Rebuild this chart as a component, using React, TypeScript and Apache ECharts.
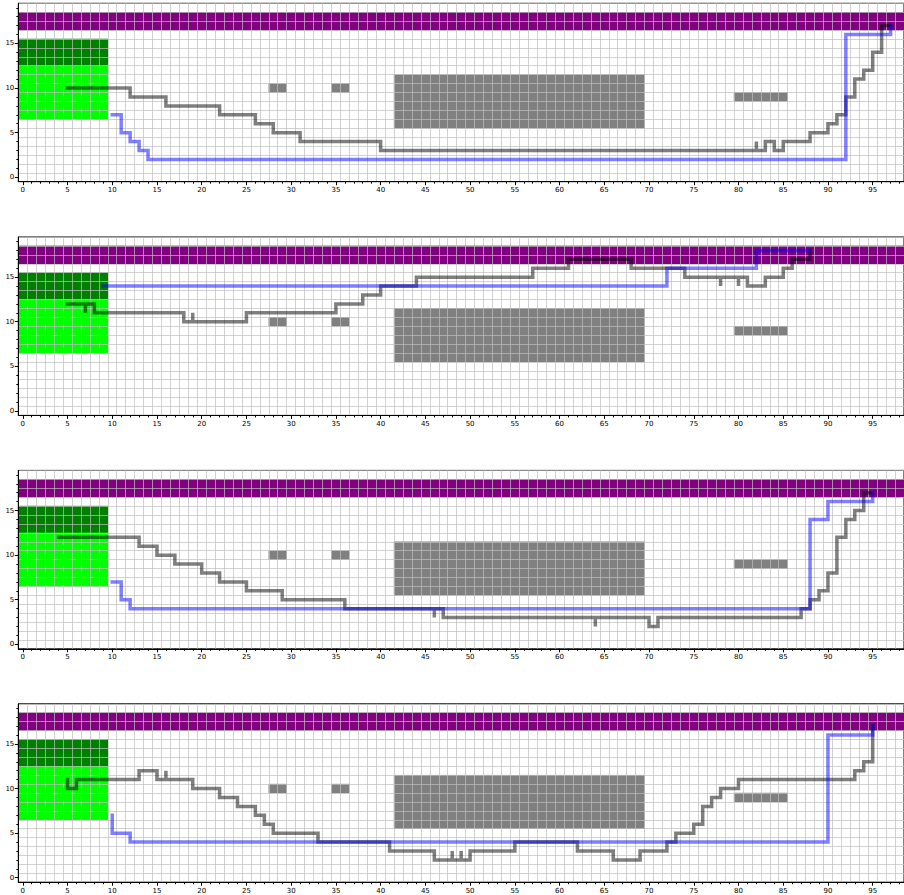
import React, { useEffect, useRef } from "react";
import * as echarts from "echarts";

// ---------- axes ----------
const X_COUNT = 99; // columns 0..98
const Y_COUNT = 20; // rows 0..19
const xCategories = Array.from({ length: X_COUNT }, (_, i) => String(i));
const yCategories = Array.from({ length: Y_COUNT }, (_, i) => String(i));

// ---------- zones: [x0, x1, y0, y1] (inclusive cell ranges) ----------
const goalZone = [0, 98, 17, 18];
const startZoneDark = [0, 9, 13, 15];
const startZoneLight = [0, 9, 7, 12];
const obstacles = [
  [28, 29, 10, 10],
  [35, 36, 10, 10],
  [42, 69, 6, 11],
  [80, 85, 9, 9],
];

// ---------- paths ----------
const grayPath1 = [
  [5, 10], [12, 10], [12, 9], [16, 9], [16, 8], [22, 8], [22, 7], [26, 7], [26, 6],
  [28, 6], [28, 5], [31, 5], [31, 4], [40, 4], [40, 3], [82, 3], [82, 4], [82, 3],
  [83, 3], [83, 4], [84, 4], [84, 3], [85, 3], [85, 4], [88, 4], [88, 5], [90, 5],
  [90, 6], [91, 6], [91, 7], [92, 7], [92, 9], [93, 9], [93, 11], [94, 11], [94, 12],
  [95, 12], [95, 14], [96, 14], [96, 17], [97, 17],
];
const bluePath1 = [
  [10, 7], [11, 7], [11, 5], [12, 5], [12, 4], [13, 4], [13, 3], [14, 3], [14, 2],
  [92, 2], [92, 16], [97, 16], [97, 17],
];

const grayPath2 = [
  [5, 12], [7, 12], [7, 11], [7, 12], [8, 12], [8, 11], [18, 11], [18, 10], [19, 10],
  [19, 11], [19, 10], [25, 10], [25, 11], [35, 11], [35, 12], [38, 12], [38, 13],
  [40, 13], [40, 14], [44, 14], [44, 15], [57, 15], [57, 16], [61, 16], [61, 17],
  [68, 17], [68, 16], [74, 16], [74, 15], [78, 15], [78, 14], [78, 15], [80, 15],
  [80, 14], [80, 15], [81, 15], [81, 14], [83, 14], [83, 15], [85, 15], [85, 16],
  [86, 16], [86, 17], [88, 17], [88, 18],
];
const bluePath2 = [
  [9, 14], [72, 14], [72, 16], [82, 16], [82, 18], [88, 18],
];

const grayPath3 = [
  [4, 12], [13, 12], [13, 11], [15, 11], [15, 10], [17, 10], [17, 9], [20, 9], [20, 8],
  [22, 8], [22, 7], [25, 7], [25, 6], [29, 6], [29, 5], [36, 5], [36, 4], [46, 4],
  [46, 3], [46, 4], [47, 4], [47, 3], [64, 3], [64, 2], [64, 3], [70, 3], [70, 2],
  [71, 2], [71, 3], [87, 3], [87, 4], [88, 4], [88, 5], [89, 5], [89, 6], [90, 6],
  [90, 8], [91, 8], [91, 12], [92, 12], [92, 14], [93, 14], [93, 15], [94, 15],
  [94, 17], [95, 17],
];
const bluePath3 = [
  [10, 7], [11, 7], [11, 5], [12, 5], [12, 4], [88, 4], [88, 14], [90, 14], [90, 16],
  [95, 16], [95, 17],
];

const grayPath4 = [
  [5, 11], [5, 10], [6, 10], [6, 11], [13, 11], [13, 12], [15, 12], [15, 11], [16, 11],
  [16, 12], [16, 11], [19, 11], [19, 10], [22, 10], [22, 9], [24, 9], [24, 8], [26, 8],
  [26, 7], [27, 7], [27, 6], [28, 6], [28, 5], [33, 5], [33, 4], [41, 4], [41, 3],
  [46, 3], [46, 2], [48, 2], [48, 3], [48, 2], [49, 2], [49, 3], [49, 2], [50, 2],
  [50, 3], [55, 3], [55, 4], [62, 4], [62, 3], [66, 3], [66, 2], [69, 2], [69, 3],
  [72, 3], [72, 4], [73, 4], [73, 5], [75, 5], [75, 6], [76, 6], [76, 8], [77, 8],
  [77, 9], [78, 9], [78, 10], [80, 10], [80, 11], [93, 11], [93, 12], [94, 12],
  [94, 13], [95, 13], [95, 17],
];
const bluePath4 = [
  [10, 7], [10, 5], [12, 5], [12, 4], [90, 4], [90, 16], [95, 16], [95, 17],
];

const grayPaths = [grayPath1, grayPath2, grayPath3, grayPath4];
const bluePaths = [bluePath1, bluePath2, bluePath3, bluePath4];

// cell codes: 1 goal (purple), 2 start dark, 3 start light, 4 obstacle
function zoneCells(zone: number[], code: number) {
  const out: number[][] = [];
  for (let x = zone[0]; x <= zone[1]; x++) {
    for (let y = zone[2]; y <= zone[3]; y++) out.push([x, y, code]);
  }
  return out;
}

function buildCells() {
  let cells: number[][] = [];
  cells = cells.concat(zoneCells(goalZone, 1));
  cells = cells.concat(zoneCells(startZoneDark, 2));
  cells = cells.concat(zoneCells(startZoneLight, 3));
  obstacles.forEach((o) => {
    cells = cells.concat(zoneCells(o, 4));
  });
  return cells;
}

export default function App() {
  const ref = useRef<HTMLDivElement>(null);

  useEffect(() => {
    if (!ref.current) return;
    const chart = echarts.init(ref.current, undefined, { renderer: "svg" });
    const cells = buildCells();
    const tops = [3.3, 237, 470.4, 703.8];
    const gridLine = "rgba(190,190,190,0.7)";
    const font = "DejaVu Sans";

    const grids: any[] = [];
    const xAxes: any[] = [];
    const yAxes: any[] = [];
    const series: any[] = [];

    tops.forEach((top, i) => {
      grids.push({
        left: 18.3,
        top,
        width: 886,
        height: 178.4,
        show: true,
        borderColor: "#000",
        borderWidth: 1,
        backgroundColor: "transparent",
      });
      // main x axis: minor ticks, labels, grid lines
      xAxes.push({
        gridIndex: i,
        type: "category",
        data: xCategories,
        boundaryGap: true,
        position: "bottom",
        z: 2,
        axisLine: { show: true, onZero: false, lineStyle: { color: "#000", width: 1 } },
        axisTick: { show: true, interval: 0, alignWithLabel: true, length: 2, lineStyle: { color: "#000" } },
        axisLabel: { interval: 4, fontSize: 7, color: "#000", margin: 5, fontFamily: font },
        splitLine: { show: true, interval: 0, lineStyle: { color: gridLine, width: 1 } },
      });
      // major x ticks
      xAxes.push({
        gridIndex: i,
        type: "category",
        data: xCategories,
        boundaryGap: true,
        position: "bottom",
        z: 2,
        axisLine: { show: false, onZero: false },
        axisTick: { show: true, interval: 4, alignWithLabel: true, length: 3.5, lineStyle: { color: "#000" } },
        axisLabel: { show: false },
        splitLine: { show: false },
      });
      yAxes.push({
        gridIndex: i,
        type: "category",
        data: yCategories,
        boundaryGap: true,
        position: "left",
        z: 2,
        axisLine: { show: true, onZero: false, lineStyle: { color: "#000", width: 1 } },
        axisTick: { show: true, interval: 0, alignWithLabel: true, length: 2, lineStyle: { color: "#000" } },
        axisLabel: { interval: 4, fontSize: 7, color: "#000", margin: 4, fontFamily: font },
        splitLine: { show: true, interval: 0, lineStyle: { color: gridLine, width: 1 } },
      });
      yAxes.push({
        gridIndex: i,
        type: "category",
        data: yCategories,
        boundaryGap: true,
        position: "left",
        z: 2,
        axisLine: { show: false, onZero: false },
        axisTick: { show: true, interval: 4, alignWithLabel: true, length: 3.5, lineStyle: { color: "#000" } },
        axisLabel: { show: false },
        splitLine: { show: false },
      });
    });

    tops.forEach((_, i) => {
      series.push({
        type: "heatmap",
        xAxisIndex: 2 * i,
        yAxisIndex: 2 * i,
        data: cells,
        z: 1,
        silent: true,
        itemStyle: { borderWidth: 0 },
        emphasis: { disabled: true },
      });
    });
    tops.forEach((_, i) => {
      series.push({
        type: "line",
        xAxisIndex: 2 * i,
        yAxisIndex: 2 * i,
        data: grayPaths[i],
        symbol: "none",
        showSymbol: false,
        z: 3,
        silent: true,
        lineStyle: { color: "rgba(0,0,0,0.5)", width: 3.5, cap: "square", join: "miter" },
        emphasis: { disabled: true },
      });
      series.push({
        type: "line",
        xAxisIndex: 2 * i,
        yAxisIndex: 2 * i,
        data: bluePaths[i],
        symbol: "none",
        showSymbol: false,
        z: 4,
        silent: true,
        lineStyle: { color: "rgba(0,0,255,0.5)", width: 3.5, cap: "square", join: "miter" },
        emphasis: { disabled: true },
      });
    });

    chart.setOption({
      animation: false,
      backgroundColor: "#fff",
      grid: grids,
      xAxis: xAxes,
      yAxis: yAxes,
      visualMap: {
        type: "piecewise",
        show: false,
        dimension: 2,
        seriesIndex: [0, 1, 2, 3],
        pieces: [
          { value: 1, color: "#800080" },
          { value: 2, color: "#008000" },
          { value: 3, color: "#00ff00" },
          { value: 4, color: "#808080" },
        ],
      },
      series,
    });

    return () => {
      chart.dispose();
    };
  }, []);

  return (
    <div
      ref={ref}
      style={{ position: "absolute", left: 0, top: 0, width: 904, height: 895 }}
    />
  );
}
